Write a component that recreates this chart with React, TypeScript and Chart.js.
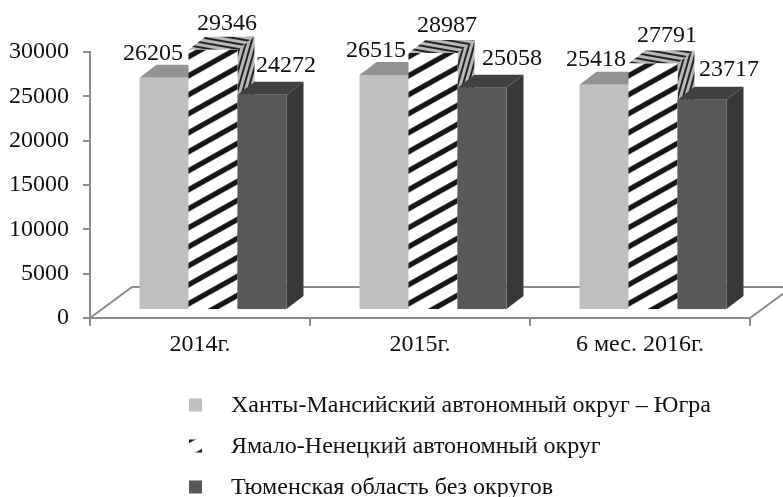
import React, { useEffect, useRef } from "react";
import { Chart, registerables } from "chart.js";

Chart.register(...registerables);

const categories = ["2014г.", "2015г.", "6 мес. 2016г."];
const seriesNames = [
  "Ханты-Мансийский автономный округ – Югра",
  "Ямало-Ненецкий автономный округ",
  "Тюменская область без округов",
];
const khmao = [26205, 26515, 25418];
const yanao = [29346, 28987, 27791];
const tyumen = [24272, 25058, 23717];

const FONT = '"Liberation Serif", "Times New Roman", serif';
const AXIS_GREY = "#8c8c8c";
const TEXT = "#111111";
const DEPTH_X = 17;
const DEPTH_Y = 13;
const SHIFT_X = 13;
const SHIFT_Y = -8;
const FS = 24;
const LABEL_OFFSETS = [
  [[-11, -24], [-8, -24], [-8, -25]],
  [[14, -26], [14, -27], [14, -28]],
  [[24, -29], [30, -29], [27, -30]],
];

function tile(w: number, h: number, draw: (c: CanvasRenderingContext2D) => void) {
  const cv = document.createElement("canvas");
  cv.width = w;
  cv.height = h;
  draw(cv.getContext("2d")!);
  return cv;
}

function makePatterns(ctx: CanvasRenderingContext2D) {
  const w = 34;
  const h = 19;
  const frontTile = tile(w, h, (c) => {
    c.fillStyle = "#ffffff";
    c.fillRect(0, 0, w, h);
    c.strokeStyle = "#151515";
    c.lineWidth = 5.2;
    for (let k = -1; k <= 1; k++) {
      c.beginPath();
      c.moveTo(-w, h + k * h + h);
      c.lineTo(2 * w, k * h - h);
      c.stroke();
    }
  });
  const categoryStep = 220;
  const fronts = categories.map((_, i) => {
    const p = ctx.createPattern(frontTile, "repeat")!;
    p.setTransform(new DOMMatrix().translate(-13 + i * categoryStep, 18.1));
    return p;
  });
  const legend = ctx.createPattern(frontTile, "repeat")!;
  legend.setTransform(new DOMMatrix().translate(0, 13.7));
  const faceTile = tile(4, 5, (c) => {
    c.fillStyle = "#b8b8b8";
    c.fillRect(0, 0, 4, 5);
    c.fillStyle = "#242424";
    c.fillRect(0, 1, 4, 2);
  });
  const top = ctx.createPattern(faceTile, "repeat")!;
  top.setTransform(new DOMMatrix().rotate(10));
  const side = ctx.createPattern(faceTile, "repeat")!;
  side.setTransform(new DOMMatrix().rotate(106));
  return { fronts, top, side, legend };
}

const bars3d = (faces: { top: any; side: any }[], legendFills: any[]) => ({
  id: "bars3d",
  beforeDatasetsDraw(chart: any) {
    const { ctx, chartArea: a } = chart;
    const floorDx = 42;
    const floorDy = 31;
    ctx.save();
    ctx.strokeStyle = AXIS_GREY;
    ctx.lineWidth = 2;
    ctx.beginPath();
    ctx.moveTo(a.left, a.bottom);
    ctx.lineTo(a.left + floorDx, a.bottom - floorDy);
    ctx.lineTo(a.right + floorDx, a.bottom - floorDy);
    ctx.lineTo(a.right, a.bottom);
    ctx.stroke();
    ctx.restore();

    ctx.save();
    ctx.translate(SHIFT_X, SHIFT_Y);
    chart.data.datasets.forEach((_: any, di: number) => {
      const meta = chart.getDatasetMeta(di);
      meta.data.forEach((el: any) => {
        const p = el.getProps(["x", "y", "base", "width"], true);
        const l = p.x - p.width / 2;
        const r = p.x + p.width / 2;
        ctx.fillStyle = faces[di].top;
        ctx.beginPath();
        ctx.moveTo(l, p.y);
        ctx.lineTo(l + DEPTH_X, p.y - DEPTH_Y);
        ctx.lineTo(r + DEPTH_X, p.y - DEPTH_Y);
        ctx.lineTo(r, p.y);
        ctx.closePath();
        ctx.fill();
        ctx.fillStyle = faces[di].side;
        ctx.beginPath();
        ctx.moveTo(r, p.y);
        ctx.lineTo(r + DEPTH_X, p.y - DEPTH_Y);
        ctx.lineTo(r + DEPTH_X, p.base - DEPTH_Y);
        ctx.lineTo(r, p.base);
        ctx.closePath();
        ctx.fill();
        el.draw(ctx, a.x);
      });
    });
    ctx.restore();

    ctx.save();
    ctx.font = `${FS}px ${FONT}`;
    ctx.fillStyle = TEXT;
    ctx.textAlign = "center";
    ctx.textBaseline = "middle";
    chart.data.datasets.forEach((ds: any, di: number) => {
      chart.getDatasetMeta(di).data.forEach((el: any, i: number) => {
        const [ox, oy] = LABEL_OFFSETS[di][i];
        ctx.fillText(String(ds.data[i]), el.x + SHIFT_X + ox, el.y + SHIFT_Y + oy);
      });
    });
    ctx.textAlign = "left";
    const rows = [405, 446, 487];
    chart.data.datasets.forEach((ds: any, di: number) => {
      ctx.fillStyle = legendFills[di];
      ctx.fillRect(189, rows[di] - 6.5, 13, 13);
      ctx.fillStyle = TEXT;
      ctx.fillText(ds.label, 231, rows[di] + 1);
    });
    ctx.restore();
    return false;
  },
});

export default function App() {
  const ref = useRef<HTMLCanvasElement>(null);
  useEffect(() => {
    document.body.style.margin = "0";
    const canvas = ref.current!;
    const ctx = canvas.getContext("2d")!;
    const pats = makePatterns(ctx);
    const chart = new Chart(canvas, {
      type: "bar",
      data: {
        labels: categories,
        datasets: [
          { label: seriesNames[0], data: khmao, backgroundColor: "#bfbfbf" },
          { label: seriesNames[1], data: yanao, backgroundColor: pats.fronts as any },
          { label: seriesNames[2], data: tyumen, backgroundColor: "#595959" },
        ],
      },
      options: {
        responsive: false,
        animation: false,
        devicePixelRatio: 1,
        layout: { padding: { left: 0, top: 52, right: 33, bottom: 139 } },
        plugins: { legend: { display: false }, tooltip: { enabled: false } },
        datasets: { bar: { barPercentage: 1, categoryPercentage: 0.668 } },
        scales: {
          x: {
            afterFit: (s: any) => { s.height = 40; },
            grid: { drawOnChartArea: false, drawTicks: true, tickLength: 8, color: AXIS_GREY, lineWidth: 2, offset: true },
            border: { color: AXIS_GREY, width: 2 },
            ticks: { color: TEXT, font: { family: FONT, size: FS }, padding: 4, maxRotation: 0 },
          },
          y: {
            min: 0,
            max: 30000,
            afterFit: (s: any) => { s.width = 90; },
            grid: { drawOnChartArea: false, drawTicks: true, tickLength: 7, color: AXIS_GREY, lineWidth: 2 },
            border: { color: AXIS_GREY, width: 2 },
            ticks: { stepSize: 5000, color: TEXT, font: { family: FONT, size: FS }, padding: 14, callback: (v: any) => String(v) },
          },
        },
      },
      plugins: [
        bars3d(
          [
            { top: "#929292", side: "#8f8f8f" },
            { top: pats.top, side: pats.side },
            { top: "#404040", side: "#383838" },
          ],
          ["#bfbfbf", pats.legend, "#595959"]
        ) as any,
      ],
    });
    return () => chart.destroy();
  }, []);
  return <canvas ref={ref} width={783} height={497} style={{ display: "block" }} />;
}
